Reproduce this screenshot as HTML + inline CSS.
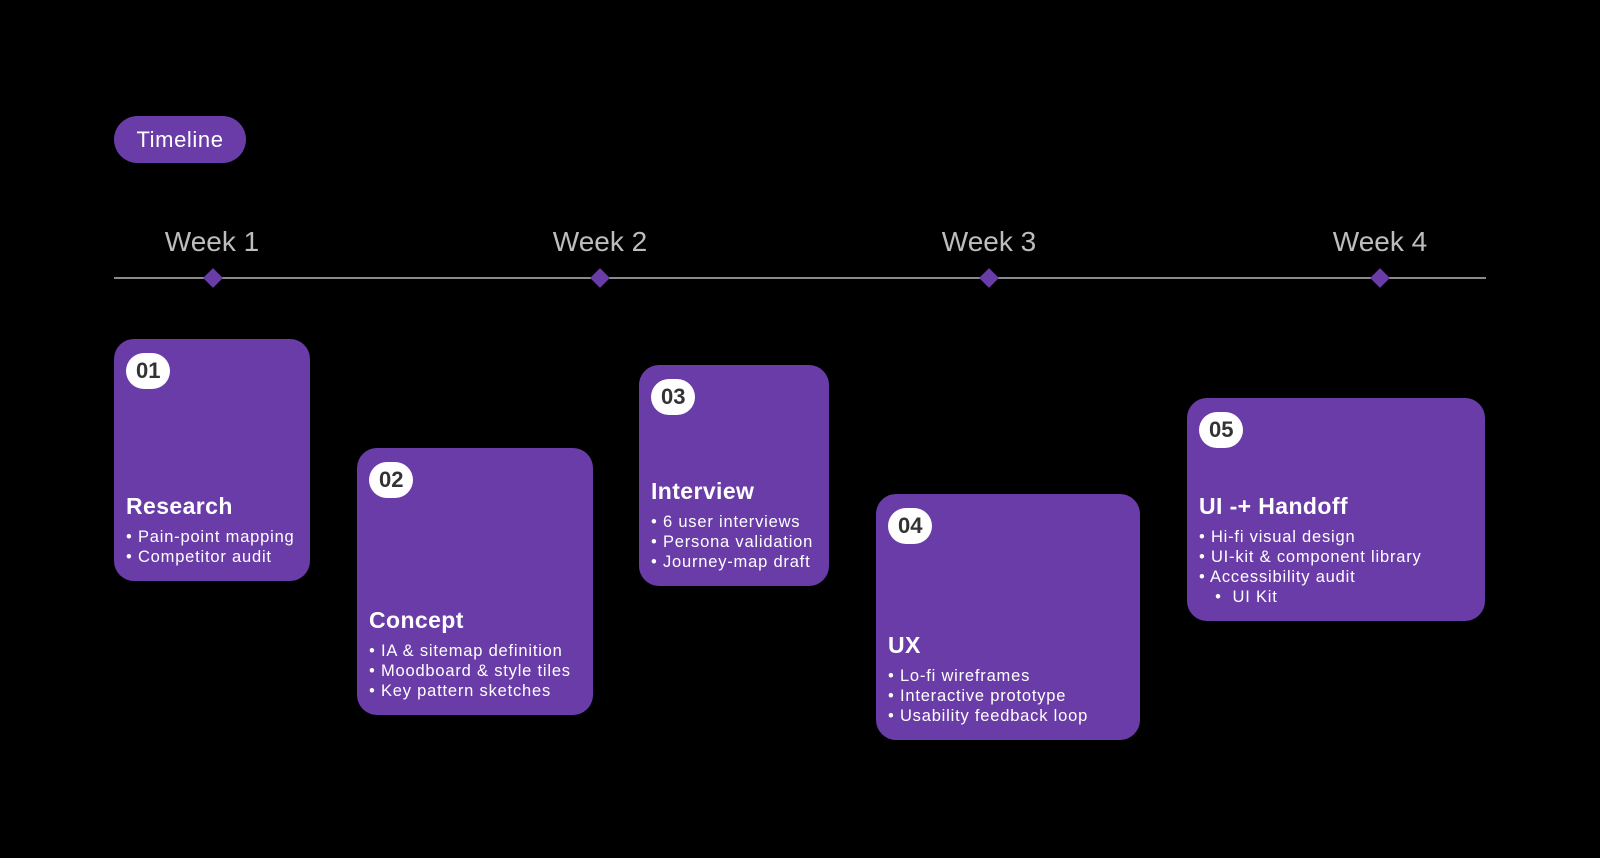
<!DOCTYPE html>
<html><head><meta charset="utf-8"><style>
*{margin:0;padding:0;box-sizing:border-box}
body{width:1600px;height:858px;background:#000;position:relative;overflow:hidden;font-family:"Liberation Sans",sans-serif;color:#fff}
.pill{position:absolute;left:114px;top:116px;width:132px;height:47px;border-radius:24px;background:#6a3ca8;font-size:22px;line-height:47px;text-align:center;letter-spacing:0.6px}
.wk{position:absolute;top:226px;width:160px;margin-left:-80px;text-align:center;font-size:28px;color:#bdbdbd}
.line{position:absolute;left:114px;top:277px;width:1372px;height:2px;background:#8a8a8a}
.dia{position:absolute;top:271px;width:14px;height:14px;margin-left:-7px;background:#6a3ca8;transform:rotate(45deg)}
.card{position:absolute;background:#6a3ca8;border-radius:20px}
.badge{position:absolute;left:12px;top:14px;height:36px;padding:0 10px;border-radius:18px;background:#fff;color:#333;font-weight:bold;font-size:22px;line-height:36px}
.txt{position:absolute;left:12px;right:4px;bottom:14px}
.t{font-weight:bold;font-size:23px;line-height:28px;margin-bottom:7px;letter-spacing:0.4px}
.b{font-size:16.5px;line-height:20px;white-space:nowrap;letter-spacing:0.8px}
</style></head><body>
<div class="pill">Timeline</div>
<div class="wk" style="left:212px">Week 1</div>
<div class="wk" style="left:600px">Week 2</div>
<div class="wk" style="left:989px">Week 3</div>
<div class="wk" style="left:1380px">Week 4</div>
<div class="line"></div>
<div class="dia" style="left:213px"></div>
<div class="dia" style="left:600px"></div>
<div class="dia" style="left:989px"></div>
<div class="dia" style="left:1380px"></div>

<div class="card" style="left:114px;top:339px;width:196px;height:242px">
<div class="badge">01</div>
<div class="txt"><div class="t">Research</div><div class="b">• Pain-point mapping</div><div class="b">• Competitor audit</div></div></div>

<div class="card" style="left:357px;top:448px;width:236px;height:267px">
<div class="badge">02</div>
<div class="txt"><div class="t">Concept</div><div class="b">• IA &amp; sitemap definition</div><div class="b">• Moodboard &amp; style tiles</div><div class="b">• Key pattern sketches</div></div></div>

<div class="card" style="left:639px;top:365px;width:190px;height:221px">
<div class="badge">03</div>
<div class="txt"><div class="t">Interview</div><div class="b">• 6 user interviews</div><div class="b">• Persona validation</div><div class="b">• Journey-map draft</div></div></div>

<div class="card" style="left:876px;top:494px;width:264px;height:246px">
<div class="badge">04</div>
<div class="txt"><div class="t">UX</div><div class="b">• Lo-fi wireframes</div><div class="b">• Interactive prototype</div><div class="b">• Usability feedback loop</div></div></div>

<div class="card" style="left:1187px;top:398px;width:298px;height:223px">
<div class="badge">05</div>
<div class="txt"><div class="t">UI -+ Handoff</div><div class="b">• Hi-fi visual design</div><div class="b">• UI-kit &amp; component library</div><div class="b">• Accessibility audit</div><div class="b">&nbsp;&nbsp;&nbsp;•&nbsp;&nbsp;UI Kit</div></div></div>
</body></html>
